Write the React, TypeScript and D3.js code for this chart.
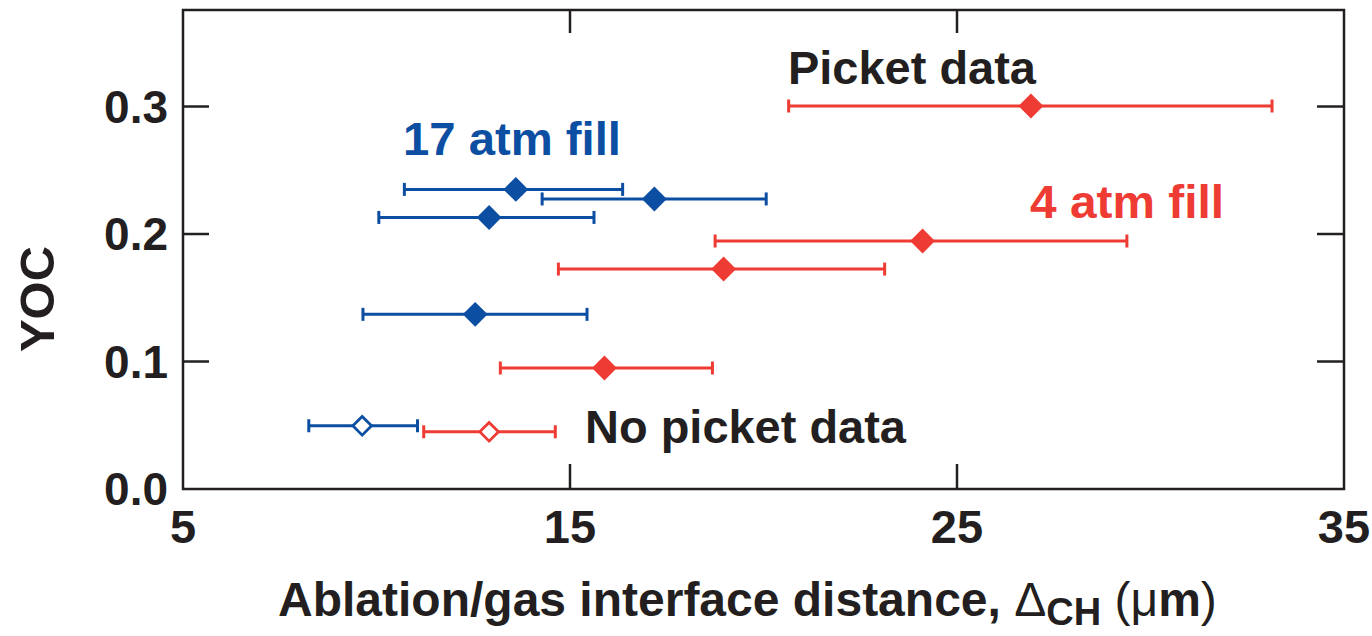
import { useEffect, useRef } from "react";
import * as d3 from "d3";

// 17 atm (azul): las cuatro primeras con picket, la última sin picket
const azulX = [13.6, 17.18, 12.91, 12.55, 9.63];
const azulY = [0.235, 0.2275, 0.213, 0.137, 0.0496];
const azulXmin = [10.72, 14.28, 10.06, 9.65, 8.25];
const azulXmax = [16.36, 20.07, 15.62, 15.44, 11.06];
const azulPicket = [true, true, true, true, false];

// 4 atm (rojo)
const rojoX = [26.91, 24.11, 18.97, 15.89, 12.91];
const rojoY = [0.3004, 0.1945, 0.1725, 0.0949, 0.0449];
const rojoXmin = [20.65, 18.75, 14.7, 13.2, 11.22];
const rojoXmax = [33.14, 29.39, 23.13, 18.68, 14.62];
const rojoPicket = [true, true, true, true, false];

const ticksX = [5, 15, 25, 35];
const ticksY = [0, 0.1, 0.2, 0.3];

const AZUL = "#0C4EA2";
const ROJO = "#EE3B33";
const NEGRO = "#231F20";
const FUENTE = "'Liberation Sans', Arial, Helvetica, sans-serif";

interface Punto {
  x: number;
  y: number;
  xmin: number;
  xmax: number;
  picket: boolean;
}

function armar(xs: number[], ys: number[], mins: number[], maxs: number[], pk: boolean[]): Punto[] {
  return xs.map((x, i) => ({ x, y: ys[i], xmin: mins[i], xmax: maxs[i], picket: pk[i] }));
}

export default function App() {
  const svgRef = useRef<SVGSVGElement>(null);
  const ANCHO = 1372;
  const ALTO = 636;

  useEffect(() => {
    if (!svgRef.current) return;
    const svg = d3.select(svgRef.current);
    svg.selectAll("*").remove();

    const margen = { top: 10, right: 28, bottom: 147, left: 183 };
    const x = d3.scaleLinear().domain([5, 35]).range([margen.left, ANCHO - margen.right]);
    const y = d3.scaleLinear().domain([0, 0.3757]).range([ALTO - margen.bottom, margen.top]);
    const [x0, x1] = x.range();
    const [y0, y1] = y.range();

    // Marco
    svg
      .append("rect")
      .attr("x", x0)
      .attr("y", y1)
      .attr("width", x1 - x0)
      .attr("height", y0 - y1)
      .attr("fill", "none")
      .attr("stroke", NEGRO)
      .attr("stroke-width", 2.5);

    // Marcas hacia dentro en los cuatro lados
    const tickLen = 25;
    const interioresX = ticksX.filter((t) => t > 5 && t < 35);
    const interioresY = ticksY.filter((t) => t > 0);
    const marcas = svg.append("g").attr("stroke", NEGRO).attr("stroke-width", 2.5);
    interioresX.forEach((t) => {
      marcas.append("line").attr("x1", x(t)).attr("x2", x(t)).attr("y1", y0).attr("y2", y0 - tickLen);
      marcas.append("line").attr("x1", x(t)).attr("x2", x(t)).attr("y1", y1).attr("y2", y1 + tickLen - 2);
    });
    interioresY.forEach((t) => {
      marcas.append("line").attr("x1", x0).attr("x2", x0 + tickLen + 1).attr("y1", y(t)).attr("y2", y(t));
      marcas.append("line").attr("x1", x1).attr("x2", x1 - tickLen - 2).attr("y1", y(t)).attr("y2", y(t));
    });

    // Etiquetas de ejes
    svg
      .append("g")
      .selectAll("text")
      .data(ticksX)
      .enter()
      .append("text")
      .attr("x", (d) => x(d))
      .attr("y", 543)
      .attr("text-anchor", "middle")
      .attr("font-family", FUENTE)
      .attr("font-weight", 700)
      .attr("font-size", 47)
      .attr("fill", NEGRO)
      .text((d) => String(d));

    svg
      .append("g")
      .selectAll("text")
      .data(ticksY)
      .enter()
      .append("text")
      .attr("x", 168)
      .attr("y", (d) => y(d) + 16)
      .attr("text-anchor", "end")
      .attr("font-family", FUENTE)
      .attr("font-weight", 700)
      .attr("font-size", 46)
      .attr("fill", NEGRO)
      .text((d) => d.toFixed(1));

    svg
      .append("text")
      .attr("transform", `translate(54,299) rotate(-90)`)
      .attr("text-anchor", "middle")
      .attr("font-family", FUENTE)
      .attr("font-weight", 700)
      .attr("font-size", 49)
      .attr("fill", NEGRO)
      .text("YOC");

    const titulo = svg
      .append("text")
      .attr("x", 278)
      .attr("y", 616)
      .attr("font-family", FUENTE)
      .attr("font-size", 48)
      .attr("fill", NEGRO);
    titulo.append("tspan").attr("font-weight", 700).text("Ablation/gas interface distance, ");
    titulo.append("tspan").attr("font-weight", 400).text("Δ");
    titulo.append("tspan").attr("font-weight", 700).attr("font-size", 38).attr("dy", 9).text("CH");
    titulo.append("tspan").attr("font-weight", 400).attr("dy", -9).text(" (μ");
    titulo.append("tspan").attr("font-weight", 700).text("m");
    titulo.append("tspan").attr("font-weight", 400).text(")");

    // Series con barras de error
    const series = [
      { datos: armar(azulX, azulY, azulXmin, azulXmax, azulPicket), color: AZUL },
      { datos: armar(rojoX, rojoY, rojoXmin, rojoXmax, rojoPicket), color: ROJO },
    ];

    const rombo = d3.symbol().type(d3.symbolSquare);

    series.forEach((s) => {
      const g = svg.append("g");
      const punto = g
        .selectAll("g.punto")
        .data(s.datos)
        .enter()
        .append("g");

      punto
        .append("line")
        .attr("x1", (d) => x(d.xmin))
        .attr("x2", (d) => x(d.xmax))
        .attr("y1", (d) => y(d.y))
        .attr("y2", (d) => y(d.y))
        .attr("stroke", s.color)
        .attr("stroke-width", 3);

      ["xmin", "xmax"].forEach((k) => {
        punto
          .append("line")
          .attr("x1", (d) => x((d as any)[k]))
          .attr("x2", (d) => x((d as any)[k]))
          .attr("y1", (d) => y(d.y) - 6.5)
          .attr("y2", (d) => y(d.y) + 6.5)
          .attr("stroke", s.color)
          .attr("stroke-width", 3);
      });

      punto
        .append("path")
        .attr("d", (d) => rombo.size(d.picket ? 310 : 175)() as string)
        .attr("transform", (d) => `translate(${x(d.x)},${y(d.y)}) rotate(45)`)
        .attr("fill", (d) => (d.picket ? s.color : "#FFFFFF"))
        .attr("stroke", s.color)
        .attr("stroke-width", (d) => (d.picket ? 0 : 2.8));
    });

    // Anotaciones
    const notas = [
      { texto: "Picket data", x: 788, y: 84, color: NEGRO, largo: 248 },
      { texto: "17 atm fill", x: 403, y: 155, color: AZUL, largo: 218 },
      { texto: "4 atm fill", x: 1030, y: 218, color: ROJO, largo: 194 },
      { texto: "No picket data", x: 585, y: 443, color: NEGRO, largo: 321 },
    ];
    svg
      .append("g")
      .selectAll("text")
      .data(notas)
      .enter()
      .append("text")
      .attr("x", (d) => d.x)
      .attr("y", (d) => d.y)
      .attr("font-family", FUENTE)
      .attr("font-weight", 700)
      .attr("font-size", 47)
      .attr("fill", (d) => d.color)
      .attr("textLength", (d) => d.largo)
      .attr("lengthAdjust", "spacingAndGlyphs")
      .text((d) => d.texto);
  }, []);

  return (
    <div style={{ position: "absolute", left: 0, top: 0 }}>
      <svg ref={svgRef} width={ANCHO} height={ALTO} viewBox={`0 0 ${ANCHO} ${ALTO}`} style={{ display: "block", background: "#FFFFFF" }} />
    </div>
  );
}
